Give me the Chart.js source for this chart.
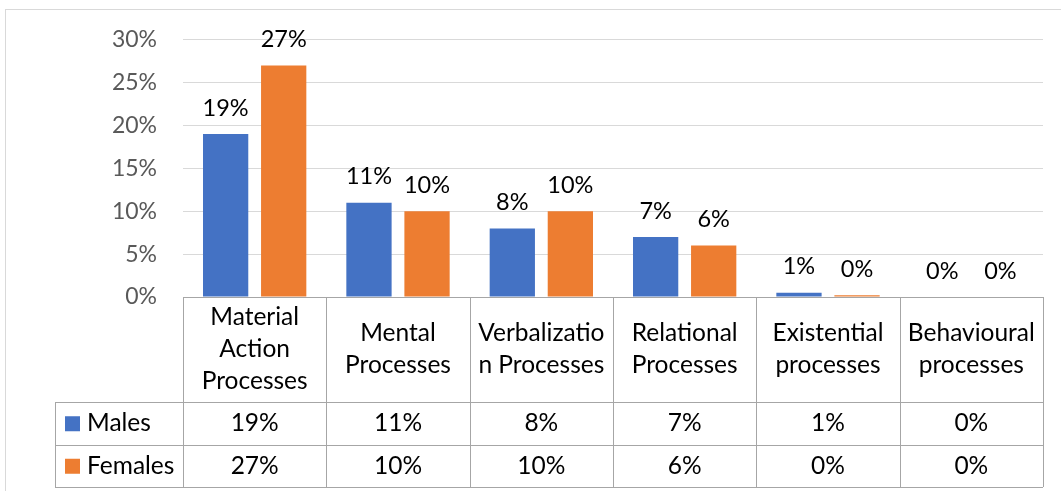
<!DOCTYPE html>
<html>
<head>
<meta charset="utf-8">
<script src="https://cdn.jsdelivr.net/npm/chart.js@4"></script>
<style>
  html, body { margin: 0; padding: 0; background: #fff; }
  #wrap { width: 1061px; height: 491px; position: relative; }
</style>
</head>
<body>
<div id="wrap"><canvas id="processChart" width="1061" height="491"></canvas></div>
<script>
// Chart data
const categories = [
    ['Material', 'Action', 'Processes'],
    ['Mental', 'Processes'],
    ['Verbalizatio', 'n Processes'],
    ['Relational', 'Processes'],
    ['Existential', 'processes'],
    ['Behavioural', 'processes']
];
const seriesNames = ['Males', 'Females'];
const malesValues = [19, 11, 8, 7, 0.5, 0];
const femalesValues = [27, 10, 10, 6, 0.2, 0];
const yTicks = [0, 5, 10, 15, 20, 25, 30];

const FONT = 'Lato, "Open Sans", sans-serif';
const BLUE = '#4472C4';
const ORANGE = '#ED7D31';
const TABLE_LINE = '#a6a6a6';

function pct(v) {
    return Math.round(v) + '%';
}

// Outer chart border (Excel chart area)
const frameBorder = {
    id: 'frameBorder',
    beforeDraw(chart) {
        const ctx = chart.ctx;
        ctx.save();
        ctx.fillStyle = '#fff';
        ctx.fillRect(0, 0, chart.width, chart.height);
        ctx.strokeStyle = '#d9d9d9';
        ctx.lineWidth = 1;
        ctx.strokeRect(5.5, 9.5, chart.width + 20, chart.height + 20);
        ctx.restore();
    }
};

// Values above the bars
const barLabels = {
    id: 'barLabels',
    afterDatasetsDraw(chart) {
        const ctx = chart.ctx;
        ctx.save();
        ctx.font = '23.5px ' + FONT;
        ctx.fillStyle = '#000';
        ctx.textAlign = 'center';
        ctx.textBaseline = 'middle';
        chart.data.datasets.forEach((ds, di) => {
            chart.getDatasetMeta(di).data.forEach((bar, i) => {
                ctx.fillText(pct(ds.data[i]), bar.x, bar.y - 26);
            });
        });
        ctx.restore();
    }
};

// Data table under the plot (category labels + value rows with legend keys)
const dataTable = {
    id: 'dataTable',
    afterDraw(chart) {
        const ctx = chart.ctx;
        const x = chart.scales.x;
        const area = chart.chartArea;
        const n = categories.length;
        const colW = (area.right - area.left) / n;
        const top = area.bottom;
        const headBottom = top + 105;
        const rowH = 42.5;
        const tableLeft = 55;
        const bottom = headBottom + rowH * 2;

        ctx.save();
        ctx.strokeStyle = TABLE_LINE;
        ctx.lineWidth = 1;
        ctx.beginPath();
        // top line
        ctx.moveTo(area.left, top + 0.5);
        ctx.lineTo(area.right, top + 0.5);
        // vertical column lines
        for (let i = 0; i <= n; i++) {
            const cx = Math.round(area.left + i * colW) + 0.5;
            ctx.moveTo(cx, top);
            ctx.lineTo(cx, bottom);
        }
        // row lines
        [headBottom, headBottom + rowH, bottom].forEach(y => {
            ctx.moveTo(tableLeft, Math.round(y) + 0.5);
            ctx.lineTo(area.right, Math.round(y) + 0.5);
        });
        ctx.moveTo(tableLeft + 0.5, headBottom);
        ctx.lineTo(tableLeft + 0.5, bottom);
        ctx.stroke();

        ctx.fillStyle = '#000';
        ctx.font = '24.5px ' + FONT;
        ctx.textAlign = 'center';
        ctx.textBaseline = 'middle';
        const lineH = 32;
        const midHead = (top + headBottom) / 2;
        categories.forEach((lines, i) => {
            const cx = x.getPixelForValue(i);
            const startY = midHead - (lines.length - 1) * lineH / 2;
            lines.forEach((t, j) => ctx.fillText(t, cx, startY + j * lineH));
        });

        const series = [malesValues, femalesValues];
        const colors = [BLUE, ORANGE];
        series.forEach((vals, r) => {
            const cy = headBottom + rowH * r + rowH / 2;
            ctx.fillStyle = colors[r];
            ctx.fillRect(65, cy - 7, 15, 15);
            ctx.fillStyle = '#000';
            ctx.textAlign = 'left';
            ctx.fillText(seriesNames[r], 87, cy);
            ctx.textAlign = 'center';
            vals.forEach((v, i) => ctx.fillText(pct(v), x.getPixelForValue(i), cy));
        });
        ctx.restore();
    }
};

const ctx = document.getElementById('processChart').getContext('2d');
new Chart(ctx, {
    type: 'bar',
    data: {
        labels: categories.map(c => c.join(' ')),
        datasets: [{
            label: seriesNames[0],
            data: malesValues,
            backgroundColor: BLUE,
            categoryPercentage: 0.81,
            barPercentage: 0.78
        }, {
            label: seriesNames[1],
            data: femalesValues,
            backgroundColor: ORANGE,
            categoryPercentage: 0.81,
            barPercentage: 0.78
        }]
    },
    options: {
        responsive: false,
        animation: false,
        layout: {
            padding: { top: 39, right: 18, bottom: 194, left: 0 }
        },
        plugins: {
            legend: { display: false },
            tooltip: { enabled: false }
        },
        scales: {
            x: { display: false },
            y: {
                min: 0,
                max: 30,
                afterFit(scale) { scale.width = 183; },
                afterBuildTicks(scale) { scale.ticks = yTicks.map(v => ({ value: v })); },
                border: { display: false },
                grid: { color: '#d9d9d9', drawTicks: false },
                ticks: {
                    padding: 26,
                    color: '#595959',
                    font: { family: FONT, size: 23 },
                    callback: v => v + '%'
                }
            }
        }
    },
    plugins: [frameBorder, barLabels, dataTable]
});
</script>
</body>
</html>
